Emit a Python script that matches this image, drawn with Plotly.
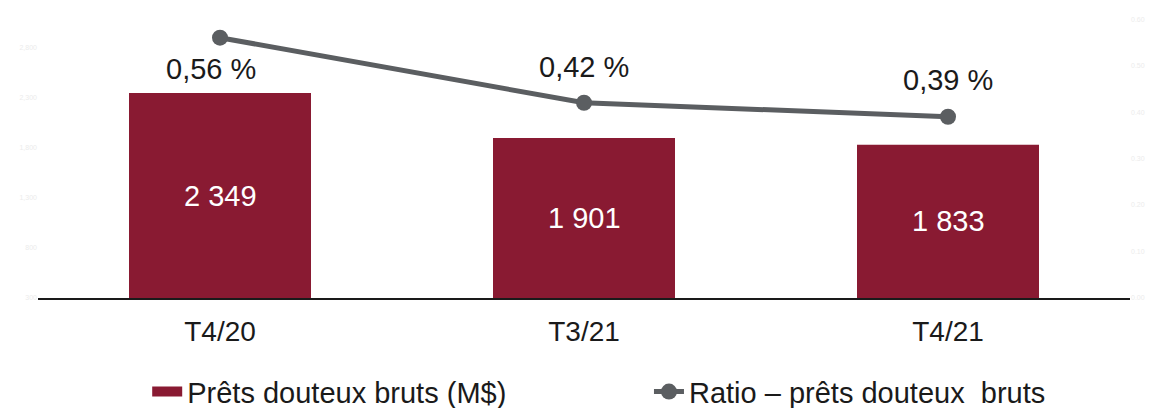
import plotly.graph_objects as go

# ── Data ──────────────────────────────────────────────────────────────────────
quarters = ["T4/20", "T3/21", "T4/21"]
gross_impaired = [2349, 1901, 1833]          # M$
impaired_ratio = [0.56, 0.42, 0.39]          # %
bar_labels = ["2 349", "1 901", "1 833"]
ratio_labels = ["0,56 %", "0,42 %", "0,39 %"]

BAR_COLOR = "#891a32"
LINE_COLOR = "#5b5e61"
FONT = "Liberation Sans, Arial, sans-serif"

Y1_MIN, Y1_MAX = 300, 3140
Y2_MIN, Y2_MAX = 0, 0.611

fig = go.Figure()

fig.add_trace(go.Bar(
    x=quarters, y=gross_impaired,
    name="Prêts douteux bruts (M$)",
    marker=dict(color=BAR_COLOR, line_width=0),
    width=0.5,
    showlegend=False,
))
# legend-only entry so the swatch is a wide block like the original
fig.add_trace(go.Scatter(
    x=[None], y=[None], mode="lines",
    name="Prêts douteux bruts (M$)",
    line=dict(color=BAR_COLOR, width=16),
    legend="legend",
))
fig.add_trace(go.Scatter(
    x=quarters, y=impaired_ratio,
    name="Ratio – prêts douteux  bruts",
    mode="lines+markers",
    line=dict(color=LINE_COLOR, width=5),
    marker=dict(color=LINE_COLOR, size=16),
    yaxis="y2",
    legend="legend2",
))

# ── Value labels ──
for q, v, t in zip(quarters, gross_impaired, bar_labels):
    fig.add_annotation(
        x=q, y=(v + Y1_MIN) / 2, text=t, showarrow=False,
        font=dict(family=FONT, size=29, color="white"),
    )

shifts = [(-9, -31), (0, 36), (0, 37)]
for (q, v, t), (dx, dy) in zip(zip(quarters, impaired_ratio, ratio_labels), shifts):
    fig.add_annotation(
        x=q, y=v, yref="y2", text=t, showarrow=False,
        xshift=dx, yshift=dy,
        font=dict(family=FONT, size=29, color="#1a1a1a"),
    )

legend_style = dict(
    orientation="h", yanchor="middle", y=-0.33, xanchor="left",
    font=dict(family=FONT, size=29, color="#1a1a1a"),
    bgcolor="rgba(0,0,0,0)",
)

# page body has an 8px margin, so the figure is a bit smaller than the window
fig.update_layout(
    width=1147, height=400,
    plot_bgcolor="white", paper_bgcolor="white",
    font=dict(family=FONT, size=22, color="#1a1a1a"),
    margin=dict(l=30, r=25, t=6, b=110, autoexpand=False),
    showlegend=True,
    legend=dict(legend_style, x=0.100),
    legend2=dict(legend_style, x=0.5595),
    xaxis=dict(
        showline=True, linecolor="#1a1a1a", linewidth=1.5,
        showgrid=False, ticks="", ticklabelstandoff=8,
        tickfont=dict(family=FONT, size=28, color="#1a1a1a"),
        automargin=False,
    ),
    yaxis=dict(
        range=[Y1_MIN, Y1_MAX], showgrid=False, zeroline=False,
        tick0=300, dtick=500, tickformat=",",
        tickfont=dict(size=7, color="#ececec"), automargin=False,
    ),
    yaxis2=dict(
        range=[Y2_MIN, Y2_MAX], overlaying="y", side="right",
        showgrid=False, zeroline=False, dtick=0.1, tickformat=".2f",
        tickfont=dict(size=7, color="#ececec"), automargin=False,
    ),
    bargap=0.5,
)

fig.write_html("out.html")
